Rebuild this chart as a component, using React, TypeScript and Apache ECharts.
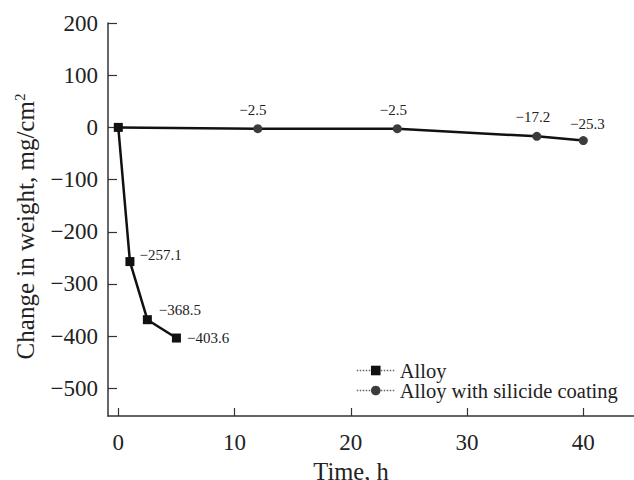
import React, { useEffect, useRef } from "react";
import * as echarts from "echarts";

const alloyTime = [0, 1, 2.5, 5];
const alloyWeight = [0, -257.1, -368.5, -403.6];
const coatedTime = [0, 12, 24, 36, 40];
const coatedWeight = [0, -2.5, -2.5, -17.2, -25.3];
const xTicks = [0, 10, 20, 30, 40];
const yTicks = [-500, -400, -300, -200, -100, 0, 100, 200];
const seriesNames = ["Alloy", "Alloy with silicide coating"];

const FONT = "Liberation Serif";
const fmt = (v: number) => String(v).replace("-", "\u2212");

// label layout (styling only)
const alloyLabelLayout = [
  null,
  { position: "right", distance: 5, offset: [0, -7] },
  { position: "right", distance: 7, offset: [0, -10] },
  { position: "right", distance: 6, offset: [0, 0] },
];
const coatedLabelLayout = [
  null,
  { position: "top", distance: 7, offset: [-5, 0] },
  { position: "top", distance: 7, offset: [-4, 0] },
  { position: "top", distance: 7, offset: [-4, 0] },
  { position: "top", distance: 5, offset: [4, 0] },
];

function buildData(xs: number[], ys: number[], layout: any[]) {
  return xs.map((x, i) => {
    const l = layout[i];
    return {
      value: [x, ys[i]],
      label: l
        ? { show: true, position: l.position, distance: l.distance, offset: l.offset }
        : { show: false },
    };
  });
}

export default function App() {
  const ref = useRef<HTMLDivElement>(null);
  useEffect(() => {
    if (!ref.current) return;
    const chart = echarts.init(ref.current, undefined, { renderer: "svg" });
    const labelStyle = {
      fontFamily: FONT,
      fontSize: 15,
      color: "#222",
      formatter: (p: any) => fmt(p.value[1]),
    };
    chart.setOption({
      animation: false,
      backgroundColor: "#fff",
      textStyle: { fontFamily: FONT, color: "#222" },
      grid: {
        left: 108,
        right: 0,
        top: 23,
        bottom: 64,
        containLabel: false,
        outerBoundsMode: "none",
      },
      legend: {
        orient: "vertical",
        left: 356,
        top: 360,
        padding: 0,
        itemGap: -1,
        itemWidth: 38,
        itemHeight: 12,
        data: seriesNames,
        textStyle: { fontFamily: FONT, fontSize: 20.5, lineHeight: 18, color: "#222" },
        lineStyle: { type: "dotted", width: 1.5, color: "#666" },
      },
      xAxis: {
        type: "value",
        min: -0.886,
        max: 44.36,
        name: "Time, h",
        nameLocation: "middle",
        nameGap: 33,
        nameTextStyle: {
          fontFamily: FONT,
          fontSize: 24.5,
          lineHeight: 24,
          color: "#222",
          padding: [0, 40, 0, 0],
        },
        axisLine: { show: true, onZero: false, lineStyle: { color: "#333", width: 1.5 } },
        axisTick: {
          show: true,
          inside: true,
          length: 8,
          customValues: xTicks,
          lineStyle: { color: "#333", width: 1.2 },
        },
        axisLabel: {
          show: true,
          customValues: xTicks,
          fontFamily: FONT,
          fontSize: 23,
          color: "#222",
          margin: 15,
          formatter: (v: number) => fmt(v),
        },
        splitLine: { show: false },
      },
      yAxis: {
        type: "value",
        min: -553,
        max: 200,
        name: "Change in weight, mg/cm{sup|2}",
        nameLocation: "middle",
        nameRotate: 90,
        nameGap: 69,
        nameTextStyle: {
          fontFamily: FONT,
          fontSize: 25,
          color: "#222",
          padding: [0, 14, 0, 0],
          rich: {
            sup: {
              fontFamily: FONT,
              fontSize: 15,
              color: "#222",
              verticalAlign: "top",
              padding: [0, 0, 12, 0],
            },
          },
        },
        axisLine: { show: true, onZero: false, lineStyle: { color: "#333", width: 1.5 } },
        axisTick: {
          show: true,
          inside: true,
          length: 9,
          customValues: yTicks,
          lineStyle: { color: "#333", width: 1.2 },
        },
        axisLabel: {
          show: true,
          customValues: yTicks,
          fontFamily: FONT,
          fontSize: 23,
          color: "#222",
          margin: 10,
          formatter: (v: number) => fmt(v),
        },
        splitLine: { show: false },
      },
      series: [
        {
          name: seriesNames[1],
          type: "line",
          data: buildData(coatedTime, coatedWeight, coatedLabelLayout),
          symbol: "circle",
          symbolSize: 9,
          showAllSymbol: true,
          itemStyle: { color: "#3c3c3c" },
          lineStyle: { color: "#111", width: 2.5 },
          label: labelStyle,
          z: 2,
        },
        {
          name: seriesNames[0],
          type: "line",
          data: buildData(alloyTime, alloyWeight, alloyLabelLayout),
          symbol: "rect",
          symbolSize: 9,
          showAllSymbol: true,
          itemStyle: { color: "#111" },
          lineStyle: { color: "#111", width: 2.5 },
          label: labelStyle,
          z: 3,
        },
      ],
    });
    return () => chart.dispose();
  }, []);
  return (
    <div
      ref={ref}
      style={{ position: "absolute", left: 0, top: 0, width: 634, height: 480 }}
    />
  );
}
